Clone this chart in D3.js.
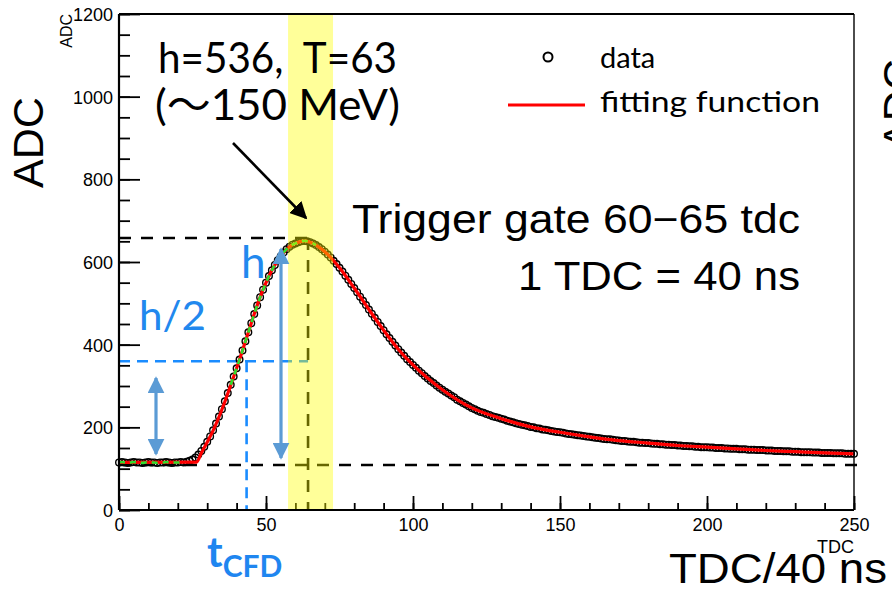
<!DOCTYPE html>
<html><head><meta charset="utf-8">
<script src="https://cdn.jsdelivr.net/npm/d3@7"></script>
<style>body{margin:0;background:#fff}svg{display:block}</style>
</head><body>
<svg id="c" width="892" height="592"></svg>
<script>
// ---- data ----
const tdcStart = 0; // first TDC bin
const adcData = [
115,116,115,114,115,116,115,115,114,115,116,115,115,114,115,115,116,115,114,115,115,116,115,
117,119,122,127,134,143,153,165,178,193,209,226,244,263,283,303,323,343,364,386,408,430,452,474,495,515,533,
550,566,580,593,604,614,623,631,637,642,
645,648,650,651,650,648,645,641,636,631,625,618,611,603,595,586,577,567,557,547,
537,527,516,506,496,485,475,465,455,445,435,425,416,407,398,389,381,373,365,358,
351,344,337,331,324,318,312,307,301,296,291,286,282,277,273,267,263,259,255,251,
247,244,240,237,235,232,230,227,225,223,221,219,216,214,212,210,208,206,205,203,
201,200,198,197,195,194,193,191,190,189,188,187,185,184,183,182,181,180,179,178,
177,176,175,174,173,172,171,171,170,169,168,167,167,166,165,165,164,163,163,162,
162,161,160,160,159,159,158,158,157,157,156,156,155,155,154,154,153,153,152,152,
152,151,151,150,150,150,149,149,148,148,148,147,147,147,146,146,146,145,145,145,
144,144,144,143,143,143,142,142,142,141,141,141,140,140,140,140,139,139,139,138,
138,138,138,137,137,137,137,136,136,136,136
];
const fitT   = [0, 26.4, 28, 30, 32, 34, 36, 38, 40, 42, 44, 46, 48, 50, 52, 54, 56, 58, 60, 62, 63, 64, 66, 68, 70, 75, 80, 85, 90, 95, 100, 110, 120, 130, 140, 150, 160, 170, 180, 190, 200, 210, 220, 230, 240, 250];
const fitADC = [115, 116, 138, 164, 192, 225, 262, 302, 343, 386, 430, 474, 515, 550, 580, 604, 623, 637, 645, 650, 651, 650, 645, 636, 625, 586, 537, 485, 435, 389, 351, 291, 247, 221, 201, 188, 177, 168, 162, 156, 152, 148, 144, 141, 138, 136];
const greenRanges = [[0, 22], [38, 67]];
const xTicksMajor = [0, 50, 100, 150, 200, 250];
const yTicksMajor = [0, 200, 400, 600, 800, 1000, 1200];
const baselineADC = 109, peakADC = 658, halfADC = 360;
const peakT = 64.3, cfdT = 43.4;
const gateBand = [57.5, 72.8];

// ---- layout ----
const svg = d3.select("#c");
const L = 119, R = 854, T = 14, B = 510;
const x = d3.scaleLinear([0, 250], [L, R]);
const y = d3.scaleLinear([0, 1200], [B, T]);
const tfont = "'Liberation Sans', Arial, sans-serif";
const cfont = "Lato, 'Noto Sans CJK JP', sans-serif";

const defs = svg.append("defs");
function marker(id, color, size) {
  defs.append("marker").attr("id", id).attr("markerUnits", "userSpaceOnUse")
    .attr("viewBox", "0 0 10 10").attr("refX", 9).attr("refY", 5)
    .attr("markerWidth", size).attr("markerHeight", size).attr("orient", "auto-start-reverse")
    .append("path").attr("d", "M0,0L10,5L0,10Z").attr("fill", color);
}
marker("ab", "#5b9bd5", 17);
marker("ak", "#000", 17);

// ---- axes ----
const fmt = d3.format("d");
const gx = svg.append("g").attr("transform", `translate(0,${B})`)
  .call(d3.axisBottom(x).tickValues(d3.range(0, 251, 10)).tickSize(-7).tickSizeOuter(0).tickFormat(""));
const gx2 = svg.append("g").attr("transform", `translate(0,${B})`)
  .call(d3.axisBottom(x).tickValues(xTicksMajor).tickSize(-14).tickSizeOuter(0).tickPadding(8).tickFormat(fmt));
const gy = svg.append("g").attr("transform", `translate(${L},0)`)
  .call(d3.axisLeft(y).tickValues(d3.range(0, 1201, 50)).tickSize(-11).tickSizeOuter(0).tickFormat(""));
const gy2 = svg.append("g").attr("transform", `translate(${L},0)`)
  .call(d3.axisLeft(y).tickValues(yTicksMajor).tickSize(-21).tickSizeOuter(0).tickPadding(6).tickFormat(fmt));
[gx, gx2, gy, gy2].forEach(g => {
  g.select(".domain").remove();
  g.selectAll("line").attr("stroke", "#000").attr("stroke-width", 1.8);
  g.selectAll("text").attr("font-family", tfont).attr("font-size", 18).attr("fill", "#000");
});
gy2.selectAll("text").attr("dy", "0.36em");

// ---- dashed guide lines ----
const dash = (x1, y1, x2, y2, color, arr) => svg.append("line")
  .attr("x1", x1).attr("y1", y1).attr("x2", x2).attr("y2", y2)
  .attr("stroke", color).attr("stroke-width", 2.6).attr("stroke-dasharray", arr);
dash(x(0), y(baselineADC), 862, y(baselineADC), "#000", "12 10");
dash(x(0), y(peakADC), x(peakT) + 2, y(peakADC), "#000", "12 10");
dash(x(peakT), y(peakADC), x(peakT), B, "#000", "12 10");
dash(x(0), y(halfADC), x(peakT), y(halfADC), "#1a8cff", "11 7");
dash(x(cfdT), y(halfADC), x(cfdT), B, "#1a8cff", "11 7");

// ---- data circles ----
svg.append("g").selectAll("circle").data(adcData).join("circle")
  .attr("cx", (d, i) => x(tdcStart + i)).attr("cy", d => y(d)).attr("r", 3.3)
  .attr("fill", "none").attr("stroke", "#000").attr("stroke-width", 1.4);

// ---- fit ----
const fitPts = fitT.map((t, i) => [t, fitADC[i]]);
svg.append("path").datum(fitPts)
  .attr("d", d3.line().x(d => x(d[0])).y(d => y(d[1])).curve(d3.curveMonotoneX))
  .attr("fill", "none").attr("stroke", "#ff0000").attr("stroke-width", 3.2);

// ---- green dashed overlay ----
greenRanges.forEach(([a, b]) => {
  const pts = adcData.map((v, i) => [tdcStart + i, v]).filter(p => p[0] >= a && p[0] <= b);
  svg.append("path").datum(pts)
    .attr("d", d3.line().x(d => x(d[0])).y(d => y(d[1])).curve(d3.curveMonotoneX))
    .attr("fill", "none").attr("stroke", "#2ee02e").attr("stroke-width", 2.6).attr("stroke-dasharray", "6 5");
});

// ---- frame ----
svg.append("path").attr("d", `M${L},${B}H${R}`).attr("stroke", "#000").attr("stroke-width", 2.2);
svg.append("path").attr("d", `M${L},${B}V${T}`).attr("stroke", "#000").attr("stroke-width", 2.2);
svg.append("path").attr("d", `M${L},${T}H${R}`).attr("stroke", "#000").attr("stroke-width", 2);
svg.append("path").attr("d", `M${R},${T}V${B}`).attr("stroke", "#000").attr("stroke-width", 1.4);

// ---- trigger gate band (semi transparent on top) ----
svg.append("rect").attr("x", x(gateBand[0])).attr("y", T + 1)
  .attr("width", x(gateBand[1]) - x(gateBand[0])).attr("height", B - T - 2)
  .attr("fill", "#ffff00").attr("opacity", 0.4);

// ---- blue arrows ----
svg.append("line").attr("x1", 156).attr("y1", 378).attr("x2", 156).attr("y2", 454)
  .attr("stroke", "#5b9bd5").attr("stroke-width", 3.2)
  .attr("marker-start", "url(#ab)").attr("marker-end", "url(#ab)");
svg.append("line").attr("x1", 281).attr("y1", 249).attr("x2", 281).attr("y2", 458)
  .attr("stroke", "#5b9bd5").attr("stroke-width", 3.2)
  .attr("marker-start", "url(#ab)").attr("marker-end", "url(#ab)");
// black arrow
svg.append("line").attr("x1", 233).attr("y1", 143).attr("x2", 306).attr("y2", 218)
  .attr("stroke", "#000").attr("stroke-width", 2.6).attr("marker-end", "url(#ak)");

// ---- annotation texts ----
const txt = (s, xx, yy, size, opts = {}) => {
  const t = svg.append("text").attr("x", xx).attr("y", yy).attr("font-size", size)
    .attr("font-family", opts.font || cfont).attr("fill", opts.fill || "#000")
    .attr("text-anchor", opts.anchor || "start").text(s);
  if (opts.len) t.attr("textLength", opts.len).attr("lengthAdjust", "spacingAndGlyphs");
  if (opts.weight) t.attr("font-weight", opts.weight);
  if (opts.rot) t.attr("transform", `rotate(-90,${xx},${yy})`);
  return t;
};
txt("h=536,\u00A0 T=63", 158, 73, 42, {len: 239});
txt("(\uFF5E150 MeV)", 155, 120, 42, {len: 245});
txt("Trigger gate 60\u221265 tdc", 800, 233, 40, {anchor: "end", len: 448, font: tfont});
txt("1 TDC = 40 ns", 800, 290, 40, {anchor: "end", len: 282, font: tfont});
txt("h", 241, 278, 44, {fill: "#2188ee"});
txt("h/2", 139, 330, 40, {fill: "#2188ee", len: 67});
const tc = svg.append("text").attr("x", 207).attr("y", 567).attr("font-family", cfont)
  .attr("font-weight", "bold").attr("fill", "#1f86f0");
tc.append("tspan").attr("font-size", 42).text("t");
tc.append("tspan").attr("font-size", 30).attr("dy", 10).text("CFD");

// legend
svg.append("circle").attr("cx", 548).attr("cy", 57).attr("r", 4.5)
  .attr("fill", "none").attr("stroke", "#000").attr("stroke-width", 2);
txt("data", 600, 68, 29);
svg.append("line").attr("x1", 508).attr("y1", 105).attr("x2", 585).attr("y2", 105)
  .attr("stroke", "#ff0000").attr("stroke-width", 3);
txt("fitting function", 600, 112, 29, {len: 220});

// axis titles
txt("ADC", 43, 188, 43, {font: tfont, rot: true, len: 91});
txt("ADC", 72, 14, 16, {font: tfont, rot: true, anchor: "end"});
txt("TDC/40 ns", 887, 583, 42, {font: tfont, anchor: "end", len: 218});
txt("TDC", 854, 553, 18, {font: tfont, anchor: "end"});
// partially visible label at right edge
txt("ADC", 913, 150, 43, {font: tfont, rot: true});
</script>
</body></html>
